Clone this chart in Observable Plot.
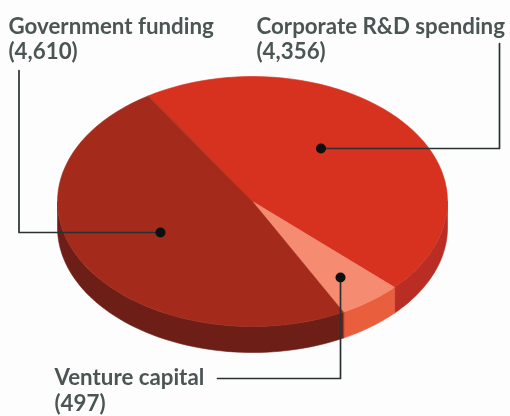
<!DOCTYPE html>
<html>
<head>
<meta charset="utf-8">
<script src="https://cdn.jsdelivr.net/npm/d3@7"></script>
<script src="https://cdn.jsdelivr.net/npm/@observablehq/plot@0.6"></script>
<style>
html,body{margin:0;padding:0;background:#fdfdfd;overflow:hidden}
svg{display:block;filter:blur(.45px)}
</style>
</head>
<body>
<div id="chart"></div>
<script>
const sources = ["Corporate R&D spending", "Venture capital", "Government funding"];
const amounts = [4356, 497, 4610];
const topColors = ["#d6321f", "#f58c72", "#a42b1b"];
const sideColors = ["#b92d24", "#e95f3e", "#6d1e17"];

const labelTexts = ["Government funding", "(4,610)", "Corporate R&D spending", "(4,356)", "Venture capital", "(497)"];
const labelX = [8, 8, 256, 256, 54, 54];
const labelY = [26, 51, 26, 51, 377, 403];

const leaderGroups = ["gov", "gov", "gov", "corp", "corp", "corp", "vc", "vc", "vc"];
const leaderX = [160, 18.5, 18.5, 320.5, 499, 499, 340, 340, 217];
const leaderY = [232, 232, 70, 148, 148, 43, 277, 378, 378];
const dotX = [160, 320.5, 340];
const dotY = [232, 148, 277];

const cx = 252, cy = 201, rx = 195, ry = 125, depth = 26, start = -32.4 * Math.PI / 180;
const pt = (a, d = 0) => ({x: cx + rx * Math.sin(a), y: cy - ry * Math.cos(a) + d});
const arcs = d3.pie().sort(null).startAngle(start).endAngle(start + 2 * Math.PI)(amounts);
const steps = (a0, a1) => d3.range(0, 61).map(i => a0 + (a1 - a0) * i / 60);

const tops = [], sides = [];
arcs.forEach((s, i) => {
  tops.push({id: "t" + i, color: topColors[i], x: cx, y: cy});
  steps(s.startAngle, s.endAngle).forEach(a => tops.push({id: "t" + i, color: topColors[i], ...pt(a)}));
  const a0 = Math.max(s.startAngle, Math.PI / 2), a1 = Math.min(s.endAngle, 3 * Math.PI / 2);
  const ring = steps(a0, a1);
  ring.forEach(a => sides.push({id: "s" + i, color: sideColors[i], ...pt(a)}));
  ring.slice().reverse().forEach(a => sides.push({id: "s" + i, color: sideColors[i], ...pt(a, depth)}));
});

const labels = labelTexts.map((t, i) => ({t, x: labelX[i], y: labelY[i]}));
const leaders = leaderX.map((x, i) => ({x, y: leaderY[i], g: leaderGroups[i]}));
const dots = dotX.map((x, i) => ({x, y: dotY[i]}));

const polygon = rows => Plot.line(rows, {x: "x", y: "y", z: "id", fill: "color", stroke: "color", strokeWidth: 0.6, curve: "linear-closed"});

const chart = Plot.plot({
  width: 510, height: 416,
  margin: 0,
  style: {background: "#fdfdfd"},
  x: {domain: [0, 510], range: [0, 510], axis: null},
  y: {domain: [0, 416], range: [0, 416], axis: null},
  color: {type: "identity"},
  marks: [
    polygon(sides),
    polygon(tops),
    Plot.line(leaders, {x: "x", y: "y", z: "g", stroke: "#2a3130", strokeWidth: 1.7}),
    Plot.dot(dots, {x: "x", y: "y", r: 5, fill: "#0e0f0f"}),
    Plot.text(labels, {x: "x", y: "y", text: "t", textAnchor: "start", lineAnchor: "middle",
      fill: "#4b5654", fontFamily: "Lato", fontWeight: 700, fontSize: 22.3})
  ]
});
document.getElementById("chart").append(chart);
</script>
</body>
</html>
